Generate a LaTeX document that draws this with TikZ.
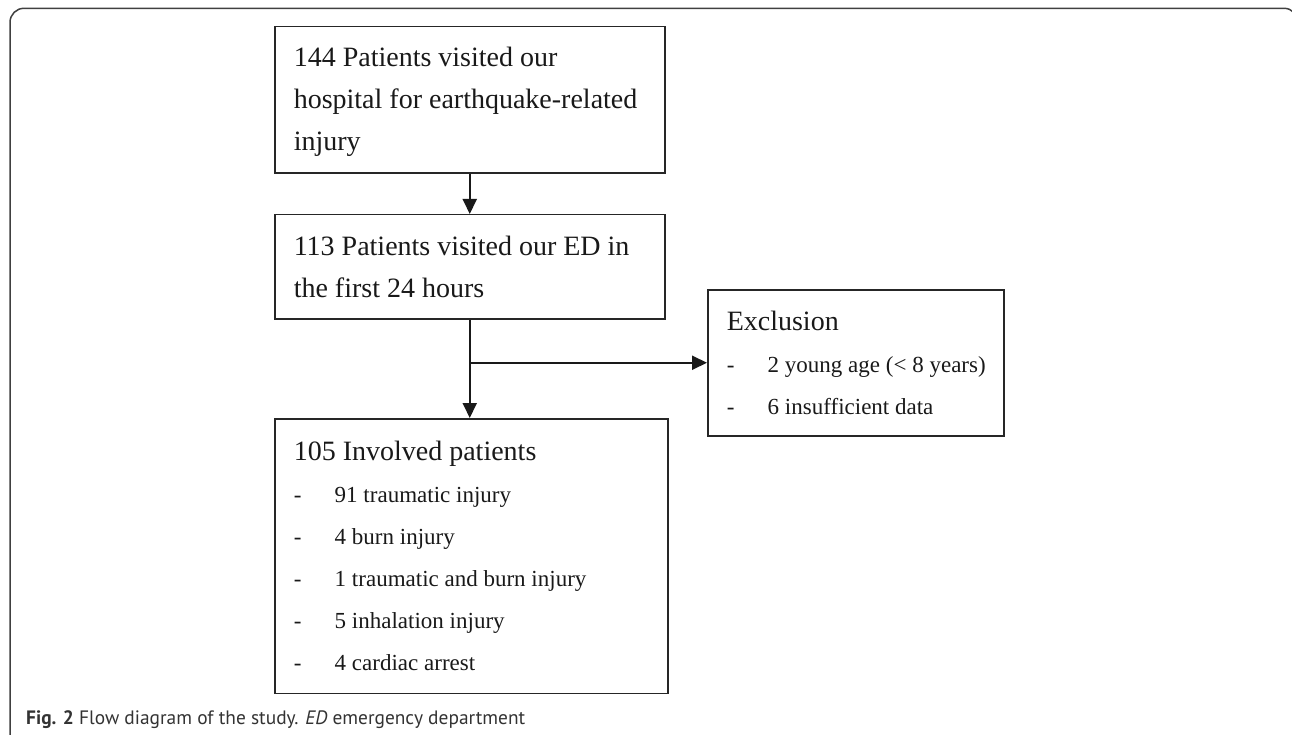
\documentclass[tikz,border=0pt]{standalone}
\usepackage{fontspec}
\setmainfont{Liberation Serif}
\newfontfamily\capfont{PT Sans}
\usetikzlibrary{arrows.meta}
\newcommand\itm[1]{\mbox{\fontsize{23}{42}\selectfont\makebox[41pt][l]{-}#1}}
\begin{document}
\begin{tikzpicture}[x=1pt,y=-1pt,
  box/.style={draw=black!85, line width=1.5pt, anchor=north west, align=flush left,
    inner xsep=19pt, inner ysep=0pt, font=\fontsize{28}{42}\selectfont, text=black!90},
  conn/.style={line width=1.9pt, draw=black!90, -{Triangle[length=15pt,width=14pt]}},
  ]
\useasboundingbox (0,0) rectangle (1292,735);
\begin{scope}
\clip (0,0) rectangle (1292,735);
\draw[line width=1.5pt, black!75, rounded corners=14pt] (10,745) -- (10,8.3) -- (1298,8.3) -- (1298,745);
\end{scope}
\node[box, minimum width=390pt, minimum height=146.6pt, text width=352pt] (b1) at (274,25.7)
  {\rule{0pt}{23pt}144 Patients visited our\\hospital for earthquake-related\\injury};
\node[box, minimum width=390pt, minimum height=104pt, text width=352pt] (b2) at (274,214)
  {113 Patients visited our ED in\\the first 24 hours};
\node[box, minimum width=393pt, minimum height=274.6pt, text width=355pt] (b3) at (274,418)
  {105 Involved patients\\\itm{91 traumatic injury}\\\itm{4 burn injury}\\\itm{1 traumatic and burn injury}\\\itm{5 inhalation injury}\\\itm{4 cardiac arrest}};
\node[box, minimum width=296pt, minimum height=146pt, text width=258pt] (ex) at (707,289)
  {Exclusion\\\itm{2 young age (< 8 years)}\\\itm{6 insufficient data}};
\draw[conn] (b1.south) -- (b2.north);
\draw[conn] (b2.south) -- (b2.south |- b3.north);
\draw[conn] (b2.south |- ex.west) -- (ex.west);
\node[anchor=base west, inner sep=0pt, text=black!80, font=\capfont\fontsize{19.4}{24}\selectfont] (cap) at (26,724)
  {\textbf{Fig. 2} Flow diagram of the study. \textit{ED} emergency department};
\end{tikzpicture}
\end{document}
